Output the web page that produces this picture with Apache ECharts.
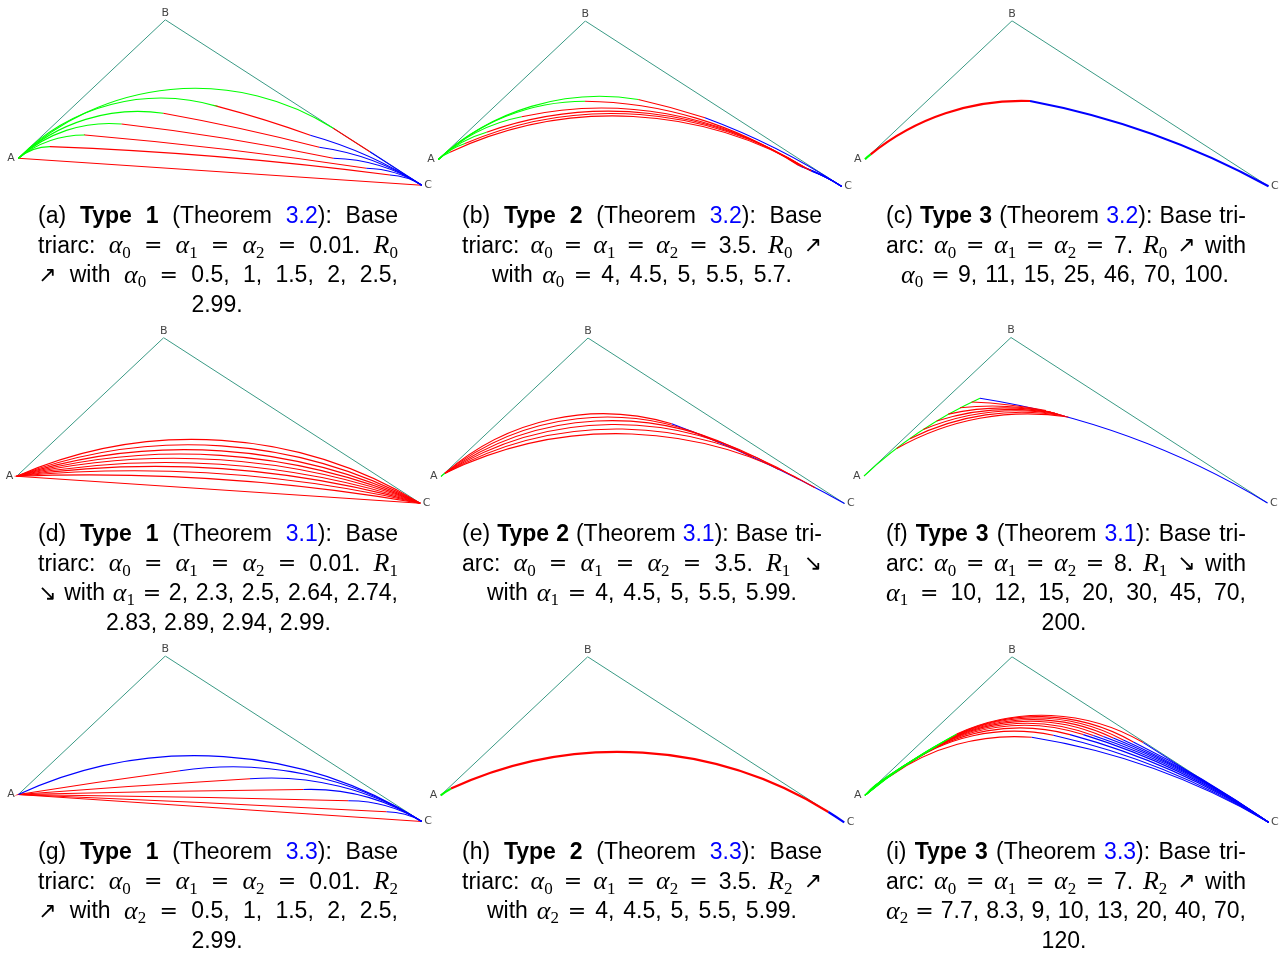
<!DOCTYPE html>
<html>
<head>
<meta charset="utf-8">
<script src="https://cdn.jsdelivr.net/npm/echarts@6.0.0/dist/echarts.min.js"></script>
<style>
  html, body { margin: 0; padding: 0; background: #ffffff; }
  #chart { width: 1287px; height: 953px; }
</style>
</head>
<body>
<div id="chart"></div>
<script>
// Triangle ABC shared by every panel (local units, A at the origin, y up).
const VERTEX_NAMES = ['A', 'B', 'C'];
const TRIANGLE = [[0, 0], [147, 138.5], [403.5, -27]];

// Each triarc is a list of arcs: [arcIndex, startX, startY, midX, midY, endX, endY].
// arcIndex 0 = first arc (from A), 1 = middle arc, 2 = last arc (into C).
const curvesA = [
  [[1, 0, 0, 201.75, -13.5, 403.5, -27]],
  [[0, 0, 0, 14.8, 8.7, 31.7, 11.7], [1, 31.7, 11.7, 201.7, 1.5, 371.7, -16.7], [2, 371.7, -16.7, 388.3, -19.8, 403.5, -27]],
  [[0, 0, 0, 31.3, 17.3, 66.7, 23.3], [1, 66.7, 23.3, 207, 9, 348, -10], [2, 348, -10, 377, -14.7, 403.5, -27]],
  [[0, 0, 0, 42.4, 25.9, 103.3, 34.3], [1, 103.3, 34.3, 210, 19.5, 315, 0], [2, 315, 0, 361.1, -7.4, 403.5, -27]],
  [[0, 0, 0, 56.4, 35.1, 145, 45], [1, 145, 45, 223, 29.5, 301, 11], [2, 301, 11, 354.3, -2.4, 403.5, -27]],
  [[0, 0, 0, 63.4, 43.8, 200, 51.7], [1, 200, 51.7, 246, 38.5, 292, 23], [2, 292, 23, 349.6, 2.2, 403.5, -27]],
  [[0, 0, 0, 175, 70, 315, 30], [1, 315, 30, 333.3, 18.3, 351.7, 6.6], [2, 351.7, 6.6, 377.6, -10.2, 403.5, -27]]
];

const curvesB = [
  [[0, 0, 0, 146.7, 62.7, 200, 60], [1, 200, 60, 233.3, 51.7, 266.7, 41.7], [2, 266.7, 41.7, 336.8, 11.3, 403.5, -27]],
  [[0, 0, 0, 67.8, 43.2, 146.7, 58.3], [1, 146.7, 58.3, 253.3, 42.7, 360, -5.7], [2, 360, -5.7, 382.4, -15.1, 403.5, -27]],
  [[0, 0, 0, 38.6, 27.2, 83.3, 42.7], [1, 83.3, 42.7, 153.3, 51.3, 363.3, -7.3], [2, 363.3, -7.3, 384, -16, 403.5, -27]],
  [[0, 0, 0, 22.5, 16.6, 48.3, 27.3], [1, 48.3, 27.3, 156.7, 48, 366.7, -8.3], [2, 366.7, -8.3, 385.6, -16.7, 403.5, -27]],
  [[0, 0, 0, 12.5, 9.5, 26.7, 16], [1, 26.7, 16, 158.3, 45.7, 370, -10], [2, 370, -10, 387.2, -17.6, 403.5, -27]],
  [[0, 0, 0, 5.5, 4.2, 11.7, 7.3], [1, 11.7, 7.3, 160, 43.3, 373.3, -11.7], [2, 373.3, -11.7, 388.8, -18.5, 403.5, -27]]
];

const curvesC = [
  [[0, 0, 0, 2.7, 2.6, 5.7, 5], [1, 5.7, 5, 51.7, 34.3, 165, 58.3], [2, 165, 58.3, 285, 26, 403.5, -27]]
];

const curvesD = [
  [[1, 0, 0, 202, 36, 403.5, -27]],
  [[1, 0, 0, 202, 30.5, 403.5, -27]],
  [[1, 0, 0, 202, 25.5, 403.5, -27]],
  [[1, 0, 0, 202, 21, 403.5, -27]],
  [[1, 0, 0, 202, 16.5, 403.5, -27]],
  [[1, 0, 0, 202, 12, 403.5, -27]],
  [[1, 0, 0, 202, 7.5, 403.5, -27]],
  [[1, 0, 0, 202, 2.5, 403.5, -27]],
  [[1, 0, 0, 202, -3, 403.5, -27]],
  [[1, 0, 0, 201.75, -13.5, 403.5, -27]]
];

const curvesE = [
  [[0, 0, 0, 2, 1.8, 4, 3.3], [1, 4, 3.3, 157.3, 62.7, 230.7, 52.7], [2, 230.7, 52.7, 317.3, 16.7, 403.5, -27]],
  [[1, 4, 3.3, 160.7, 59.3, 277.3, 34.2]],
  [[1, 4, 3.3, 160.7, 55.7, 310.7, 19.7]],
  [[1, 4, 3.3, 160.7, 51.7, 337.3, 7.2]],
  [[1, 4, 3.3, 164, 47.3, 357.3, -2.6]],
  [[1, 4, 3.3, 164, 42.7, 374, -11.2]]
];

const curvesF = [
  [[0, 0, 0, 54.8, 43.5, 116, 77.7], [2, 116, 77.7, 260, 41, 403.5, -27]],
  [[1, 107.7, 74, 146, 71, 182, 65.5]],
  [[1, 96, 68.2, 146, 69.5, 187, 64]],
  [[1, 84.3, 61.9, 146, 68, 191, 63]],
  [[1, 72.7, 55, 146, 66.5, 194.3, 62]],
  [[1, 59.3, 46.5, 146, 65, 197.7, 61]],
  [[1, 46, 37.3, 146, 63.5, 201, 60]],
  [[1, 32.7, 27.4, 146, 61.5, 204.3, 59]]
];

const curvesG = [
  [[1, 0, 0, 201.75, -13.5, 403.5, -27]],
  [[1, 0, 0, 184.1, -8.1, 368.3, -17.3], [2, 368.3, -17.3, 386.5, -19.8, 403.5, -27]],
  [[1, 0, 0, 165, -2.6, 330, -6.3], [2, 330, -6.3, 368.2, -11.5, 403.5, -27]],
  [[1, 0, 0, 142.5, 3, 285, 5], [2, 285, 5, 346.6, -2.1, 403.5, -27]],
  [[1, 0, 0, 115.8, 8.3, 231.7, 15.7], [2, 231.7, 15.7, 321, 8.2, 403.5, -27]],
  [[1, 0, 0, 80.7, 12.3, 161.7, 23.7], [2, 161.7, 23.7, 287.2, 20.2, 403.5, -27]],
  [[2, 0, 0, 168.3, 38.7, 403.5, -27]]
];

const curvesH = [
  [[0, 0, 0, 5, 3.5, 10.3, 6.7], [1, 10.3, 6.7, 171, 43.3, 387.7, -16.7], [2, 387.7, -16.7, 396, -22, 403.5, -27]]
];

const curvesI = [
  [[0, 0, 0, 11, 10.7, 25, 19], [1, 25, 19, 148.3, 58.7, 166.7, 58], [2, 166.7, 58, 285, 28, 403.5, -27]],
  [[0, 0, 0, 16, 14.3, 35, 25.7], [1, 35, 25.7, 155, 64, 188.3, 60], [2, 188.3, 60, 295, 27, 403.5, -27]],
  [[0, 0, 0, 21, 17.7, 45, 32.3], [1, 45, 32.3, 160, 67.3, 205, 60.7], [2, 205, 60.7, 303.3, 26.3, 403.5, -27]],
  [[0, 0, 0, 24.3, 20, 51.7, 36.7], [1, 51.7, 36.7, 163.3, 70, 218.3, 60.7], [2, 218.3, 60.7, 310, 25.3, 403.5, -27]],
  [[0, 0, 0, 27.7, 22, 58.3, 40.7], [1, 58.3, 40.7, 165, 72, 228.3, 59.7], [2, 228.3, 59.7, 315, 24.3, 403.5, -27]],
  [[0, 0, 0, 31, 24, 65, 44.7], [1, 65, 44.7, 166.7, 74, 238.3, 58.7], [2, 238.3, 58.7, 320, 23, 403.5, -27]],
  [[0, 0, 0, 34.3, 26.3, 71.7, 49], [1, 71.7, 49, 168.3, 75.7, 248.3, 57.3], [2, 248.3, 57.3, 325, 21.3, 403.5, -27]],
  [[0, 0, 0, 37.7, 28.7, 78.3, 53.3], [1, 78.3, 53.3, 170, 77.3, 258.3, 55.3], [2, 258.3, 55.3, 330, 19.3, 403.5, -27]],
  [[0, 0, 0, 41, 30.7, 85, 57.3], [1, 85, 57.3, 171.7, 78.7, 268.3, 53.3], [2, 268.3, 53.3, 335, 17.3, 403.5, -27]],
  [[0, 0, 0, 44.3, 32.7, 91.7, 61.3], [1, 91.7, 61.3, 173.3, 80, 278.3, 52.7], [2, 278.3, 52.7, 340.7, 12.8, 403.5, -27]]
];

// Caption lines. *bold*, [link], $math$ with _ for subscripts.
const CAPTION_A = ['(a) *Type* *1* (Theorem [3.2]): Base', 'triarc: $α_0$ = $α_1$ = $α_2$ = 0.01. $R_0$', '↗ with $α_0$ = 0.5, 1, 1.5, 2, 2.5,', '2.99.'];
const CAPTION_B = ['(b) *Type* *2* (Theorem [3.2]): Base', 'triarc: $α_0$ = $α_1$ = $α_2$ = 3.5. $R_0$ ↗', 'with $α_0$ = 4, 4.5, 5, 5.5, 5.7.'];
const CAPTION_C = ['(c) *Type* *3* (Theorem [3.2]): Base tri-', 'arc: $α_0$ = $α_1$ = $α_2$ = 7. $R_0$ ↗ with', '$α_0$ = 9, 11, 15, 25, 46, 70, 100.'];
const CAPTION_D = ['(d) *Type* *1* (Theorem [3.1]): Base', 'triarc: $α_0$ = $α_1$ = $α_2$ = 0.01. $R_1$', '↘ with $α_1$ = 2, 2.3, 2.5, 2.64, 2.74,', '2.83, 2.89, 2.94, 2.99.'];
const CAPTION_E = ['(e) *Type* *2* (Theorem [3.1]): Base tri-', 'arc: $α_0$ = $α_1$ = $α_2$ = 3.5. $R_1$ ↘', 'with $α_1$ = 4, 4.5, 5, 5.5, 5.99.'];
const CAPTION_F = ['(f) *Type* *3* (Theorem [3.1]): Base tri-', 'arc: $α_0$ = $α_1$ = $α_2$ = 8. $R_1$ ↘ with', '$α_1$ = 10, 12, 15, 20, 30, 45, 70,', '200.'];
const CAPTION_G = ['(g) *Type* *1* (Theorem [3.3]): Base', 'triarc: $α_0$ = $α_1$ = $α_2$ = 0.01. $R_2$', '↗ with $α_2$ = 0.5, 1, 1.5, 2, 2.5,', '2.99.'];
const CAPTION_H = ['(h) *Type* *2* (Theorem [3.3]): Base', 'triarc: $α_0$ = $α_1$ = $α_2$ = 3.5. $R_2$ ↗', 'with $α_2$ = 4, 4.5, 5, 5.5, 5.99.'];
const CAPTION_I = ['(i) *Type* *3* (Theorem [3.3]): Base tri-', 'arc: $α_0$ = $α_1$ = $α_2$ = 7. $R_2$ ↗ with', '$α_2$ = 7.7, 8.3, 9, 10, 13, 20, 40, 70,', '120.'];

// ---------- layout and styling ----------
const ARC_COLORS = ['#00ff00', '#ff0000', '#0000ff'];
const TRIANGLE_COLOR = '#3a9a85';
const COL_SPAN = [[38, 398], [462, 822], [886, 1246]];
const ROW_TEXT_Y = [217, 535, 853];
const LINE_STEP = 29.5;

const PANELS = [
  { curves: curvesA, caption: CAPTION_A, a: [18.3, 158.3], w: 1.1, col: 0, row: 0, last: [191, 243] },
  { curves: curvesB, caption: CAPTION_B, a: [438.3, 159.5], w: 1.1, col: 1, row: 0, last: [492, 792] },
  { curves: curvesC, caption: CAPTION_C, a: [865, 159.3], w: 2.2, col: 2, row: 0, last: [901, 1229] },
  { curves: curvesD, caption: CAPTION_D, a: [16.7, 476.2], w: 1.1, col: 0, row: 1, last: [106, 331] },
  { curves: curvesE, caption: CAPTION_E, a: [441, 476.5], w: 1.1, col: 1, row: 1, last: [487, 797] },
  { curves: curvesF, caption: CAPTION_F, a: [864, 476], w: 1.1, col: 2, row: 1, last: [1040, 1088] },
  { curves: curvesG, caption: CAPTION_G, a: [18.3, 794.5], w: 1.1, col: 0, row: 2, last: [191, 243] },
  { curves: curvesH, caption: CAPTION_H, a: [440.7, 795.3], w: 2.2, col: 1, row: 2, last: [487, 797] },
  { curves: curvesI, caption: CAPTION_I, a: [865, 795.3], w: 1.1, col: 2, row: 2, last: [1040, 1088] }
];

const X_MIN = 0, X_MAX = 403.5, Y_MIN = -27, Y_MAX = 138.5;

// Draws a circular arc through three points (start, mid, end) in pixel space.
function arcRenderer(lineWidth) {
  return function (params, api) {
    const p0 = api.coord([api.value(0), api.value(1)]);
    const pm = api.coord([api.value(2), api.value(3)]);
    const p1 = api.coord([api.value(4), api.value(5)]);
    const style = { stroke: ARC_COLORS[api.value(6)], lineWidth: lineWidth, fill: 'none' };
    const ax = p0[0], ay = p0[1], bx = pm[0], by = pm[1], cx = p1[0], cy = p1[1];
    const d = 2 * (ax * (by - cy) + bx * (cy - ay) + cx * (ay - by));
    if (Math.abs(d) < 1e-6) {
      return { type: 'polyline', shape: { points: [p0, p1] }, style: style };
    }
    const s0 = ax * ax + ay * ay, s1 = bx * bx + by * by, s2 = cx * cx + cy * cy;
    const ux = (s0 * (by - cy) + s1 * (cy - ay) + s2 * (ay - by)) / d;
    const uy = (s0 * (cx - bx) + s1 * (ax - cx) + s2 * (bx - ax)) / d;
    const r = Math.hypot(ax - ux, ay - uy);
    if (r > 50000) {
      return { type: 'polyline', shape: { points: [p0, p1] }, style: style };
    }
    const TAU = Math.PI * 2;
    const norm = (v) => ((v % TAU) + TAU) % TAU;
    const a0 = Math.atan2(ay - uy, ax - ux);
    const am = Math.atan2(by - uy, bx - ux);
    const a1 = Math.atan2(cy - uy, cx - ux);
    const increasing = norm(am - a0) < norm(a1 - a0);
    return {
      type: 'arc',
      shape: { cx: ux, cy: uy, r: r, startAngle: a0, endAngle: a1, clockwise: increasing },
      style: style
    };
  };
}

// ---------- caption typesetting ----------
const FONTS = {
  n: '23px "Liberation Sans"',
  b: 'bold 23px "Liberation Sans"',
  u: '23px "Liberation Sans"',
  m: 'italic 26px "Liberation Serif"',
  s: '17px "Liberation Serif"',
  r: '22px "DejaVu Serif"',
  a: '22px "DejaVu Sans"'
};
const FILLS = { u: '#0000ff' };
const Y_SHIFT = { s: 7, m: 0 };
const measureCtx = document.createElement('canvas').getContext('2d');
function textWidth(t, mode) {
  measureCtx.font = FONTS[mode];
  return measureCtx.measureText(t).width;
}

function parseToken(tok) {
  const segs = [];
  let mode = 'n', buf = '';
  const flush = () => { if (buf) { segs.push({ t: buf, m: mode }); buf = ''; } };
  for (let i = 0; i < tok.length; i++) {
    const ch = tok[i];
    if (ch === '*') { flush(); mode = mode === 'b' ? 'n' : 'b'; continue; }
    if (ch === '[') { flush(); mode = 'u'; continue; }
    if (ch === ']') { flush(); mode = 'n'; continue; }
    if (ch === '$') { flush(); mode = mode === 'm' ? 'n' : 'm'; continue; }
    if (mode === 'm' && ch === '_') { flush(); segs.push({ t: tok[i + 1], m: 's' }); i++; continue; }
    if (ch === '=') { flush(); segs.push({ t: ch, m: 'r' }); continue; }
    if (ch === '↗' || ch === '↘') { flush(); segs.push({ t: ch, m: 'a' }); continue; }
    buf += ch;
  }
  flush();
  segs.forEach((s) => { s.w = textWidth(s.t, s.m); });
  return segs;
}

function captionElements(panel) {
  const els = [];
  const lines = panel.caption;
  lines.forEach((line, li) => {
    const span = li === lines.length - 1 ? panel.last : COL_SPAN[panel.col];
    const y = ROW_TEXT_Y[panel.row] + li * LINE_STEP;
    const tokens = line.split(' ').map(parseToken);
    const widths = tokens.map((segs) => segs.reduce((s, g) => s + g.w, 0));
    const total = widths.reduce((s, w) => s + w, 0);
    let gap = 0, x = span[0];
    if (tokens.length > 1) {
      gap = (span[1] - span[0] - total) / (tokens.length - 1);
      if (gap < 3.5) {
        gap = 4.5;
        x = (span[0] + span[1]) / 2 - (total + gap * (tokens.length - 1)) / 2;
      }
    } else {
      x = (span[0] + span[1]) / 2 - total / 2;
    }
    tokens.forEach((segs) => {
      segs.forEach((g) => {
        els.push({
          type: 'text', silent: true,
          x: x, y: y + (Y_SHIFT[g.m] || 0),
          style: {
            text: g.t, font: FONTS[g.m], fill: FILLS[g.m] || '#000000',
            align: 'left', verticalAlign: 'middle',
            textAlign: 'left', textVerticalAlign: 'middle'
          }
        });
        x += g.w;
      });
      x += gap;
    });
  });
  return els;
}

// ---------- build option ----------
const grid = [], xAxis = [], yAxis = [], series = [];
let graphics = [];
const LABEL_POS = ['left', 'top', 'right'];
const LABEL_DIST = [3, 1, 2];

PANELS.forEach((p, i) => {
  grid.push({
    left: p.a[0], top: p.a[1] - Y_MAX,
    width: X_MAX - X_MIN, height: Y_MAX - Y_MIN
  });
  xAxis.push({ type: 'value', gridIndex: i, min: X_MIN, max: X_MAX, show: false });
  yAxis.push({ type: 'value', gridIndex: i, min: Y_MIN, max: Y_MAX, show: false });

  series.push({
    type: 'line', xAxisIndex: i, yAxisIndex: i, data: TRIANGLE,
    symbol: 'none', silent: true, animation: false,
    lineStyle: { color: TRIANGLE_COLOR, width: 1 }, z: 1
  });
  series.push({
    type: 'scatter', xAxisIndex: i, yAxisIndex: i, silent: true, animation: false,
    symbolSize: 1, itemStyle: { color: 'rgba(0,0,0,0)' },
    data: TRIANGLE.map((pt, k) => ({
      value: pt, name: VERTEX_NAMES[k],
      label: { position: LABEL_POS[k], distance: LABEL_DIST[k] }
    })),
    label: { show: true, formatter: '{b}', fontSize: 11, color: '#111111', fontFamily: 'DejaVu Sans' },
    z: 3
  });

  const arcs = [];
  p.curves.forEach((curve) => curve.forEach((seg) => {
    arcs.push([seg[1], seg[2], seg[3], seg[4], seg[5], seg[6], seg[0]]);
  }));
  series.push({
    type: 'custom', xAxisIndex: i, yAxisIndex: i, silent: true, animation: false,
    renderItem: arcRenderer(p.w), data: arcs,
    encode: { x: [0, 2, 4], y: [1, 3, 5] }, z: 2
  });

  graphics = graphics.concat(captionElements(p));
});

const chart = echarts.init(document.getElementById('chart'), null, { renderer: 'canvas' });
chart.setOption({
  backgroundColor: '#ffffff',
  animation: false,
  grid: grid, xAxis: xAxis, yAxis: yAxis, series: series,
  graphic: { elements: graphics }
});
</script>
</body>
</html>
